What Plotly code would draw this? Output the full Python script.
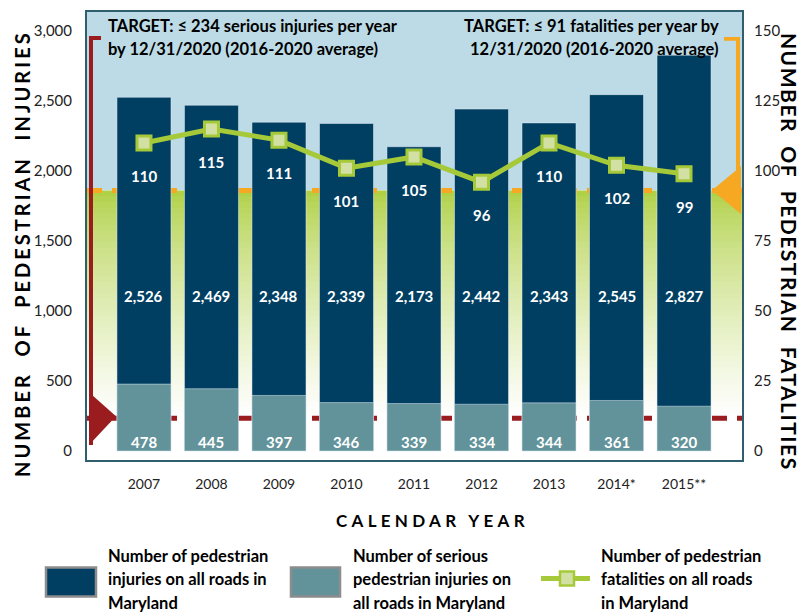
import plotly.graph_objects as go

# data
years = ["2007", "2008", "2009", "2010", "2011", "2012", "2013", "2014", "2015"]
year_labels = ["2007", "2008", "2009", "2010", "2011", "2012", "2013", "2014*", "2015**"]
injuries = [2526, 2469, 2348, 2339, 2173, 2442, 2343, 2545, 2827]
serious = [478, 445, 397, 346, 339, 334, 344, 361, 320]
fatalities = [110, 115, 111, 101, 105, 96, 110, 102, 99]
serious_target = 234
fatal_target_line = 93  # where the orange target band is drawn

NAVY = "#003f62"
TEAL = "#62939a"
LIME = "#a6c93a"
RED = "#9b1c1f"
ORANGE = "#f7a823"
SKY = "#bcdbe6"
FONT = "Lato"

# page offset from the default body margin
OFF = 8
W, H = 805 - OFF, 612 - OFF
# plot area in page pixels
L, R, T, B = 87, 742, 10, 460


def px(x):
    return (x - L) / (R - L)


def py(y):
    return (B - y) / (B - T)


fig = go.Figure()
fig.add_trace(go.Bar(x=years, y=injuries, marker_color=NAVY, width=0.8,
                     name="injuries", hoverinfo="y"))
fig.add_trace(go.Bar(x=years, y=serious, marker_color=TEAL, width=0.8,
                     name="serious", hoverinfo="y"))
fig.add_trace(go.Scatter(x=years, y=fatalities, yaxis="y2", mode="lines+markers",
                         line=dict(color=LIME, width=5),
                         marker=dict(symbol="square", size=14, color="#d3e0a4",
                                     line=dict(color=LIME, width=3)),
                         name="fatalities"))

Y_RANGE = [-64, 3135]
Y2_RANGE = [-3.2, 156.75]
to_left = (Y_RANGE[1] - Y_RANGE[0]) / (Y2_RANGE[1] - Y2_RANGE[0])
green_top = Y_RANGE[0] + (fatal_target_line - Y2_RANGE[0]) * to_left

shapes = []
# sky background above target band
shapes.append(dict(type="rect", xref="paper", yref="y", x0=0, x1=1, y0=green_top, y1=Y_RANGE[1],
                   fillcolor=SKY, line_width=0, layer="below"))
# green gradient below target band (overlapping bands, no seams)
n = 40
g0, g1 = (176, 208, 70), (255, 255, 255)
bottom = 230
shapes.append(dict(type="rect", xref="paper", yref="y", x0=0, x1=1, y0=Y_RANGE[0], y1=green_top,
                   fillcolor="white", line_width=0, layer="below"))
for i in range(n):
    t = i / (n - 1)
    c = tuple(int(round(g0[k] + (g1[k] - g0[k]) * t ** 0.75)) for k in range(3))
    ya = green_top - (green_top - bottom) * i / n
    shapes.append(dict(type="rect", xref="paper", yref="y", x0=0, x1=1, y0=bottom, y1=ya,
                       fillcolor="rgb(%d,%d,%d)" % c, line_width=0, layer="below"))
# target dashed lines
shapes.append(dict(type="line", xref="paper", yref="y", x0=0, x1=1, y0=serious_target, y1=serious_target,
                   line=dict(color=RED, width=5, dash="15px,10px"), layer="below"))
shapes.append(dict(type="line", xref="paper", yref="y2", x0=0, x1=1,
                   y0=fatal_target_line, y1=fatal_target_line,
                   line=dict(color=ORANGE, width=5, dash="15px,10px"), layer="below"))
# left red bracket
shapes.append(dict(type="path", xref="paper", yref="paper",
                   path="M %f,%f L %f,%f L %f,%f L %f,%f L %f,%f L %f,%f Z" % (
                       px(89), py(34), px(101), py(34), px(101), py(38), px(93), py(38),
                       px(93), py(445), px(89), py(445)),
                   fillcolor=RED, line_width=0))
shapes.append(dict(type="path", xref="paper", yref="paper",
                   path="M %f,%f L %f,%f L %f,%f Z" % (px(89), py(392), px(116), py(416), px(89), py(445)),
                   fillcolor=RED, line_width=0))
# right orange bracket
shapes.append(dict(type="path", xref="paper", yref="paper",
                   path="M %f,%f L %f,%f L %f,%f L %f,%f L %f,%f L %f,%f Z" % (
                       px(724), py(35), px(740), py(35), px(740), py(190), px(736), py(190),
                       px(736), py(39), px(724), py(39)),
                   fillcolor=ORANGE, line_width=0))
shapes.append(dict(type="path", xref="paper", yref="paper",
                   path="M %f,%f L %f,%f L %f,%f Z" % (px(741), py(165), px(712), py(189), px(741), py(213)),
                   fillcolor=ORANGE, line_width=0))

# legend
shapes.append(dict(type="rect", xref="paper", yref="paper", x0=px(46), x1=px(96), y0=py(597), y1=py(568),
                   fillcolor=NAVY, line=dict(color="#8c8c8c", width=2.5)))
shapes.append(dict(type="rect", xref="paper", yref="paper", x0=px(291), x1=px(340), y0=py(597), y1=py(568),
                   fillcolor=TEAL, line=dict(color="#8c8c8c", width=2.5)))
shapes.append(dict(type="line", xref="paper", yref="paper", x0=px(541), x1=px(590), y0=py(579), y1=py(579),
                   line=dict(color=LIME, width=5)))
shapes.append(dict(type="rect", xref="paper", yref="paper", x0=px(560), x1=px(574), y0=py(586), y1=py(572),
                   fillcolor="#d3e0a4", line=dict(color=LIME, width=2.5)))

annotations = []
bold = dict(family=FONT, size=15, color="white")
for i, (inj, ser, fat) in enumerate(zip(injuries, serious, fatalities)):
    annotations.append(dict(x=i, y=1109, xref="x", yref="y", text="<b>{:,}</b>".format(inj),
                            showarrow=False, font=bold))
    annotations.append(dict(x=i, y=64, xref="x", yref="y", text="<b>{:,}</b>".format(ser),
                            showarrow=False, font=bold))
    annotations.append(dict(x=i, y=fat, xref="x", yref="y2", yshift=-33, text="<b>%d</b>" % fat,
                            showarrow=False, font=bold))


def note(x, y, text, size=16.5, xanchor="left", angle=0):
    return dict(x=px(x), y=py(y), xref="paper", yref="paper", xanchor=xanchor, yanchor="middle",
                textangle=angle, text="<b>%s</b>" % text, showarrow=False,
                font=dict(family=FONT, size=size, color="black"))


def spaced(s, spacing, gap="\u00a0\u00a0"):
    return '<span style="letter-spacing:%gpx">%s</span>' % (spacing, gap.join(s.split()))


annotations += [
    note(106, 24, "TARGET: ≤ 234 serious injuries per year"),
    note(106, 47, "by 12/31/2020 (2016-2020 average)"),
    note(721, 24, "TARGET: ≤ 91 fatalities per year by", xanchor="right"),
    note(721, 47, "12/31/2020 (2016-2020 average)", xanchor="right"),
    note(22, 253, spaced("NUMBER OF PEDESTRIAN INJURIES", 3.0), size=20, xanchor="center", angle=-90),
    note(789, 251, spaced("NUMBER OF PEDESTRIAN FATALITIES", 1.5), size=21, xanchor="center", angle=90),
    note(432, 521, spaced("CALENDAR YEAR", 4.3, "\u00a0"), size=17, xanchor="center"),
]

legend_items = [
    (106, ["Number of pedestrian", "injuries on all roads in", "Maryland"]),
    (351, ["Number of serious", "pedestrian injuries on", "all roads in Maryland"]),
    (599, ["Number of pedestrian", "fatalities on all roads", "in Maryland"]),
]
for x0, lines in legend_items:
    for i, line in enumerate(lines):
        annotations.append(note(x0, 556 + 24 * i, line))

fig.update_layout(
    width=W, height=H,
    margin=dict(l=L - OFF, r=805 - R, t=T - OFF, b=612 - B),
    paper_bgcolor="white", plot_bgcolor="white",
    barmode="overlay", bargap=0.2, showlegend=False,
    font=dict(family=FONT, size=15, color="#333333"),
    shapes=shapes, annotations=annotations,
    xaxis=dict(type="category", tickmode="array", tickvals=years, ticktext=year_labels,
               range=[-0.844, 8.859], showgrid=False, ticks="outside", ticklen=10,
               tickcolor="rgba(0,0,0,0)", tickfont=dict(size=14, color="#222"),
               showline=True, linecolor="#2f5f6e", linewidth=2, mirror=True),
    yaxis=dict(range=Y_RANGE, tickvals=[0, 500, 1000, 1500, 2000, 2500, 3000],
               tickformat=",", showgrid=False, zeroline=False, ticks="outside", ticklen=10,
               tickcolor="rgba(0,0,0,0)", tickfont=dict(size=15, color="#222"),
               showline=True, linecolor="#2f5f6e", linewidth=2, mirror=True),
    yaxis2=dict(range=Y2_RANGE, overlaying="y", side="right",
                tickvals=[0, 25, 50, 75, 100, 125, 150], showgrid=False, zeroline=False,
                ticks="outside", ticklen=8, tickcolor="rgba(0,0,0,0)",
                tickfont=dict(size=15, color="#222")),
)

fig.write_html("out.html")
